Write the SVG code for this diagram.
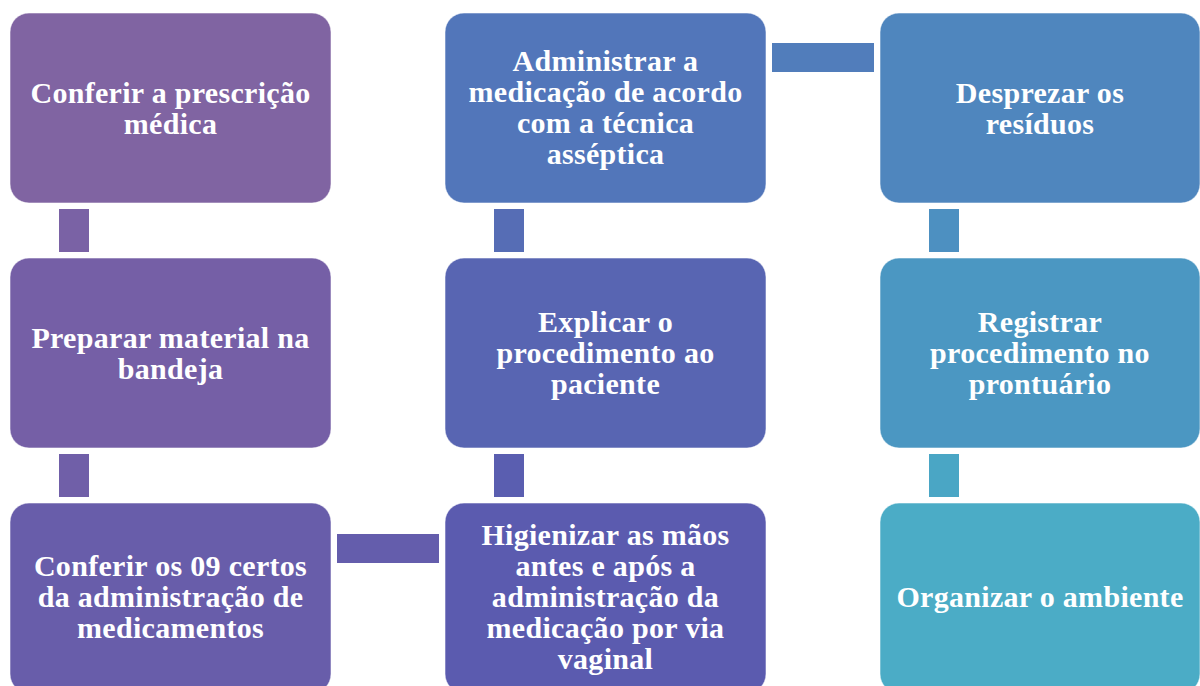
<svg xmlns="http://www.w3.org/2000/svg" width="1200" height="686" viewBox="0 0 1200 686">
<style>
.box{stroke:#ffffff;stroke-opacity:0.55;stroke-width:1}
.t{font-family:"Liberation Serif","Times New Roman",serif;font-weight:bold;font-size:30px;letter-spacing:0.3px;fill:#ffffff;text-anchor:middle}
</style>
<rect width="1200" height="686" fill="#ffffff"/>
<g id="connectors">
<rect x="59" y="209" width="30" height="43" fill="#7A62A5"/>
<rect x="59" y="454" width="30" height="43" fill="#705FA8"/>
<rect x="337" y="534" width="102" height="29" fill="#645DAC"/>
<rect x="494" y="454" width="30" height="43" fill="#5A5EB0"/>
<rect x="494" y="209" width="30" height="43" fill="#566DB5"/>
<rect x="772" y="43" width="102" height="29" fill="#517DBB"/>
<rect x="929" y="209" width="30" height="43" fill="#4D90C1"/>
<rect x="929" y="454" width="30" height="43" fill="#4AA6C5"/>
</g>
<g id="n1">
<rect class="box" x="10" y="13" width="321" height="190" rx="19" fill="#8064A2"/>
<text class="t"><tspan x="170.5" y="102.5">Conferir a prescrição</tspan><tspan x="170.5" y="133.5">médica</tspan></text>
</g>
<g id="n2">
<rect class="box" x="10" y="258" width="321" height="190" rx="19" fill="#755FA6"/>
<text class="t"><tspan x="170.5" y="347.5">Preparar material na</tspan><tspan x="170.5" y="378.5">bandeja</tspan></text>
</g>
<g id="n3">
<rect class="box" x="10" y="503" width="321" height="190" rx="19" fill="#685DAA"/>
<text class="t"><tspan x="170.5" y="576">Conferir os 09 certos</tspan><tspan x="170.5" y="607">da administração de</tspan><tspan x="170.5" y="638">medicamentos</tspan></text>
</g>
<g id="n4">
<rect class="box" x="445" y="503" width="321" height="190" rx="19" fill="#5B5BAF"/>
<text class="t"><tspan x="605.5" y="545">Higienizar as mãos</tspan><tspan x="605.5" y="576">antes e após a</tspan><tspan x="605.5" y="607">administração da</tspan><tspan x="605.5" y="638">medicação por via</tspan><tspan x="605.5" y="669">vaginal</tspan></text>
</g>
<g id="n5">
<rect class="box" x="445" y="258" width="321" height="190" rx="19" fill="#5865B2"/>
<text class="t"><tspan x="605.5" y="332">Explicar o</tspan><tspan x="605.5" y="363">procedimento ao</tspan><tspan x="605.5" y="394">paciente</tspan></text>
</g>
<g id="n6">
<rect class="box" x="445" y="13" width="321" height="190" rx="19" fill="#5276BA"/>
<text class="t"><tspan x="605.5" y="70.5">Administrar a</tspan><tspan x="605.5" y="101.5">medicação de acordo</tspan><tspan x="605.5" y="132.5">com a técnica</tspan><tspan x="605.5" y="163.5">asséptica</tspan></text>
</g>
<g id="n7">
<rect class="box" x="880" y="13" width="320" height="190" rx="19" fill="#4F86BE"/>
<text class="t"><tspan x="1040" y="102.5">Desprezar os</tspan><tspan x="1040" y="133.5">resíduos</tspan></text>
</g>
<g id="n8">
<rect class="box" x="880" y="258" width="320" height="190" rx="19" fill="#4B97C2"/>
<text class="t"><tspan x="1040" y="332">Registrar</tspan><tspan x="1040" y="363">procedimento no</tspan><tspan x="1040" y="394">prontuário</tspan></text>
</g>
<g id="n9">
<rect class="box" x="880" y="503" width="320" height="190" rx="19" fill="#4BACC6"/>
<text class="t"><tspan x="1040" y="607">Organizar o ambiente</tspan></text>
</g>
</svg>
